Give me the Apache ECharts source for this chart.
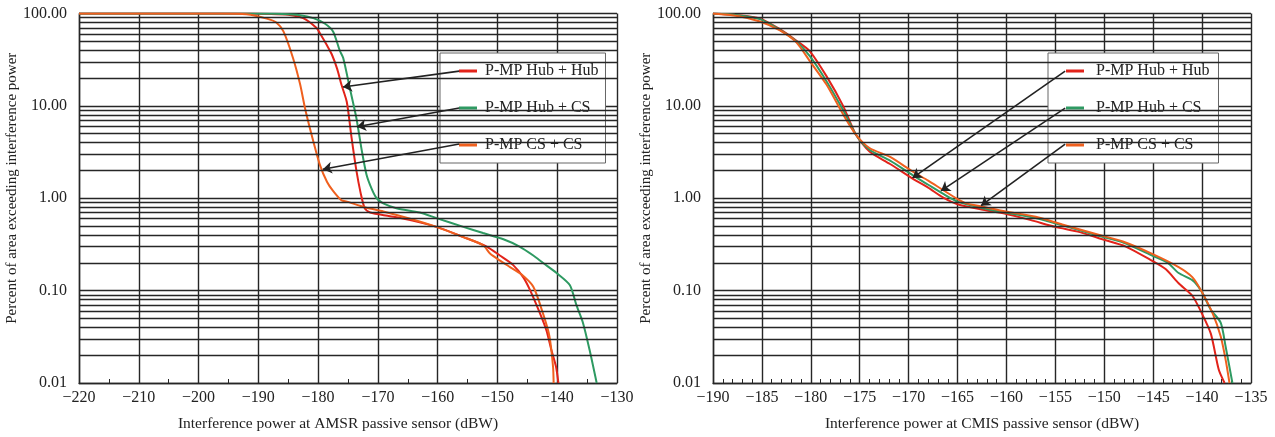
<!DOCTYPE html>
<html>
<head>
<meta charset="utf-8">
<script src="https://cdn.jsdelivr.net/npm/echarts@6/dist/echarts.min.js"></script>
<style>
html,body{margin:0;padding:0;background:#fff;}
#chart{width:1275px;height:437px;}
</style>
</head>
<body>
<div id="chart"></div>
<script>
// ---------- data ----------
const seriesNames = ['P-MP Hub + Hub', 'P-MP Hub + CS', 'P-MP CS + CS'];
const seriesColors = ['#e2231a', '#2e9a62', '#f0601e'];

const amsrTitle = 'Interference power at AMSR passive sensor (dBW)';
const cmisTitle = 'Interference power at CMIS passive sensor (dBW)';
const yTitle = 'Percent of area exceeding interference power';

const yTickValues = [0.01, 0.1, 1, 10, 100];

// AMSR (left panel) [dBW, percent]
const amsrHubHub = [[-220,100],[-195,100],[-188,99],[-185,97],[-182.5,89],[-180.3,70],[-179.7,61],[-178.5,45],[-177.7,36],[-176.8,25],[-176.1,17],[-175.2,11],[-174.4,4.5],[-173.6,2.0],[-172.9,1.15],[-172.2,0.78],[-171.3,0.70],[-168,0.64],[-164.6,0.58],[-160.2,0.49],[-155.7,0.38],[-151.8,0.30],[-149.6,0.24],[-147.4,0.19],[-145.7,0.14],[-144.6,0.103],[-142.9,0.057],[-141.8,0.037],[-141.0,0.023],[-140.2,0.015],[-139.8,0.01]];
const amsrHubCs = [[-220,100],[-192,100],[-186,99],[-183,96],[-180.8,89],[-178.9,78],[-177.5,64],[-176.4,40],[-175.8,33],[-174.7,15.6],[-173.6,7.4],[-172.7,3.3],[-171.9,1.8],[-171.0,1.25],[-170.2,1.0],[-169.1,0.88],[-166.9,0.78],[-163,0.70],[-160.2,0.61],[-155.7,0.49],[-152.4,0.42],[-149,0.36],[-146.3,0.30],[-144,0.24],[-142.4,0.20],[-140.1,0.155],[-137.9,0.115],[-136.8,0.07],[-135.7,0.045],[-134.6,0.023],[-133.4,0.01]];
const amsrCsCs = [[-220,100],[-196,100],[-192,98],[-188.6,88],[-187,80],[-185.8,64],[-184.2,33],[-183,17],[-182.2,9.5],[-181.1,4.9],[-179.7,2.3],[-178.5,1.5],[-177.5,1.2],[-176.1,0.95],[-175.2,0.92],[-172.2,0.80],[-169.1,0.72],[-164.6,0.60],[-160.2,0.49],[-155.7,0.38],[-152.4,0.31],[-151.2,0.25],[-149.5,0.21],[-147.9,0.18],[-146,0.15],[-144,0.11],[-142.4,0.057],[-141.3,0.032],[-140.7,0.015],[-140.6,0.01]];

// CMIS (right panel)
const cmisHubHub = [[-190,100],[-187.5,96],[-185.2,88],[-183.2,68],[-181.5,51],[-180.1,39],[-178.4,21],[-176.7,10],[-175.4,4.9],[-174,3.2],[-171.9,2.35],[-169.6,1.63],[-168,1.3],[-166.5,1.02],[-165,0.86],[-162.4,0.75],[-160.1,0.68],[-157.5,0.58],[-155,0.49],[-152.5,0.43],[-150.2,0.36],[-147.8,0.30],[-145.1,0.21],[-143.7,0.17],[-142.4,0.12],[-141,0.088],[-140,0.056],[-139.1,0.034],[-138.3,0.014],[-137.7,0.01]];
const cmisHubCs = [[-190,100],[-187.5,96],[-185.2,87],[-183.2,67],[-181.5,50],[-180.1,34.5],[-178.4,18.5],[-176.7,9],[-175.4,4.9],[-174,3.35],[-171.9,2.55],[-169.6,1.78],[-168,1.4],[-166.5,1.12],[-165,0.92],[-162.4,0.78],[-160.1,0.70],[-157,0.61],[-154,0.50],[-150.5,0.39],[-148,0.33],[-145.1,0.24],[-143.5,0.20],[-142.4,0.155],[-141,0.13],[-140.1,0.10],[-139.1,0.062],[-138.1,0.045],[-137.6,0.025],[-136.9,0.01]];
const cmisCsCs = [[-190,100],[-187.5,94],[-185.2,82],[-183.2,66],[-181.5,49],[-180.1,30.5],[-178.4,17],[-176.7,8.1],[-175.4,4.9],[-174,3.5],[-171.9,2.8],[-169.6,1.95],[-168,1.55],[-166.5,1.23],[-165,0.98],[-164.1,0.88],[-162.4,0.81],[-160.1,0.72],[-157,0.63],[-154.3,0.52],[-150.5,0.40],[-148.1,0.34],[-145.1,0.25],[-142.4,0.18],[-141,0.14],[-140.1,0.10],[-138.9,0.056],[-138.1,0.032],[-137.6,0.018],[-137.2,0.01]];

// annotation arrows [from legend, to curve] in data coordinates
const amsrArrows = [[[-156.4,23.8],[-175.85,16.0]],[[-156.4,9.47],[-173.5,5.94]],[[-156.4,3.86],[-179.2,2.06]]];
const cmisArrows = [[[-154.0,23.8],[-169.6,1.66]],[[-154.0,9.47],[-166.7,1.20]],[[-154.0,3.86],[-162.6,0.83]]];

// ---------- chart ----------
const FONT = 'Liberation Serif';
const GRID_COLOR = '#262626';
const minus = v => (v < 0 ? '\u2212' + Math.abs(v) : String(v));

// minor log grid values (2..9 in each decade)
const minorLogLines = [];
for (let d = 0; d < yTickValues.length - 1; d++) {
  for (let m = 2; m <= 9; m++) minorLogLines.push(+(yTickValues[d] * m).toPrecision(3));
}

function xAxisDef(idx, min, max, interval, minorSplit, name, namePad) {
  return {
    gridIndex: idx, type: 'value', min, max, interval,
    name, nameLocation: 'middle', nameGap: 33,
    nameTextStyle: { fontFamily: FONT, fontSize: 15.5, color: '#222', padding: namePad },
    axisLine: { show: true, onZero: false, lineStyle: { color: GRID_COLOR, width: 1.4 } },
    axisTick: { show: true, inside: true, length: 4, lineStyle: { color: GRID_COLOR } },
    minorTick: { show: true, splitNumber: minorSplit, length: 4, lineStyle: { color: GRID_COLOR } },
    axisLabel: { formatter: minus, fontFamily: FONT, fontSize: 16, color: '#222', margin: 7 },
    splitLine: { show: true, lineStyle: { color: GRID_COLOR, width: 1.4 } }
  };
}
function yAxisDef(idx) {
  return {
    gridIndex: idx, type: 'log', logBase: 10, min: yTickValues[0], max: yTickValues[yTickValues.length - 1],
    name: yTitle, nameLocation: 'middle', nameGap: 58,
    nameTextStyle: { fontFamily: FONT, fontSize: 15, color: '#222', padding: [0, 0, 0, 20] },
    axisLine: { show: true, lineStyle: { color: GRID_COLOR, width: 1.4 } },
    axisTick: { show: false },
    axisLabel: { formatter: v => Number(v).toFixed(2), fontFamily: FONT, fontSize: 16, color: '#222', margin: 12 },
    splitLine: { show: true, lineStyle: { color: GRID_COLOR, width: 1.4 } }
  };
}
function curve(name, color, data, idx) {
  return {
    type: 'line', name, data, xAxisIndex: idx, yAxisIndex: idx,
    showSymbol: false, symbol: 'none', smooth: 0.25, z: 3,
    lineStyle: { color, width: 2 }, itemStyle: { color },
    emphasis: { disabled: true }
  };
}
function gridLines(idx) {
  return {
    type: 'line', data: [], xAxisIndex: idx, yAxisIndex: idx, z: 1, silent: true,
    markLine: {
      silent: true, symbol: ['none', 'none'], animation: false,
      label: { show: false },
      lineStyle: { color: GRID_COLOR, width: 1.4, type: 'solid' },
      emphasis: { disabled: true },
      data: minorLogLines.map(v => ({ yAxis: v }))
    }
  };
}
function arrows(idx, list) {
  return {
    type: 'line', data: [], xAxisIndex: idx, yAxisIndex: idx, z: 10, silent: true,
    markLine: {
      silent: true, symbol: ['none', 'arrow'], symbolSize: 9, animation: false,
      label: { show: false },
      lineStyle: { color: '#222', width: 1.6, type: 'solid' },
      emphasis: { disabled: true },
      data: list.map(a => [{ coord: a[0] }, { coord: a[1] }])
    }
  };
}
// legend icon: 18px coloured bar followed by an invisible spacer dot
function legendIcon(gap) {
  return 'path://M0,0H18V3H0Z M' + (18 + gap) + ',1.5h0.01v0.01h-0.01Z';
}
function legendDef(left, top, padding, gap) {
  return {
    data: seriesNames, orient: 'vertical', left, top,
    icon: legendIcon(gap), itemWidth: 18 + gap, itemHeight: 3, itemGap: 21,
    padding, backgroundColor: '#fff', borderColor: '#666', borderWidth: 1,
    textStyle: { fontFamily: FONT, fontSize: 16, color: '#222' },
    selectedMode: false, z: 5
  };
}

const chart = echarts.init(document.getElementById('chart'));
chart.setOption({
  animation: false,
  backgroundColor: '#fff',
  grid: [
    { left: 79, top: 13.5, width: 538, height: 370 },
    { left: 713, top: 13.5, width: 538, height: 370 }
  ],
  xAxis: [
    xAxisDef(0, -220, -130, 10, 2, amsrTitle, [0, 20, 0, 0]),
    xAxisDef(1, -190, -135, 5, 5, cmisTitle, 0)
  ],
  yAxis: [yAxisDef(0), yAxisDef(1)],
  legend: [
    legendDef(440, 53, [10, 7, 10, 19], 3),
    legendDef(1048, 53, [10, 9, 10, 18], 7)
  ],
  series: [
    gridLines(0), gridLines(1),
    curve(seriesNames[0], seriesColors[0], amsrHubHub, 0),
    curve(seriesNames[1], seriesColors[1], amsrHubCs, 0),
    curve(seriesNames[2], seriesColors[2], amsrCsCs, 0),
    curve(seriesNames[0], seriesColors[0], cmisHubHub, 1),
    curve(seriesNames[1], seriesColors[1], cmisHubCs, 1),
    curve(seriesNames[2], seriesColors[2], cmisCsCs, 1),
    arrows(0, amsrArrows), arrows(1, cmisArrows)
  ]
});
</script>
</body>
</html>
